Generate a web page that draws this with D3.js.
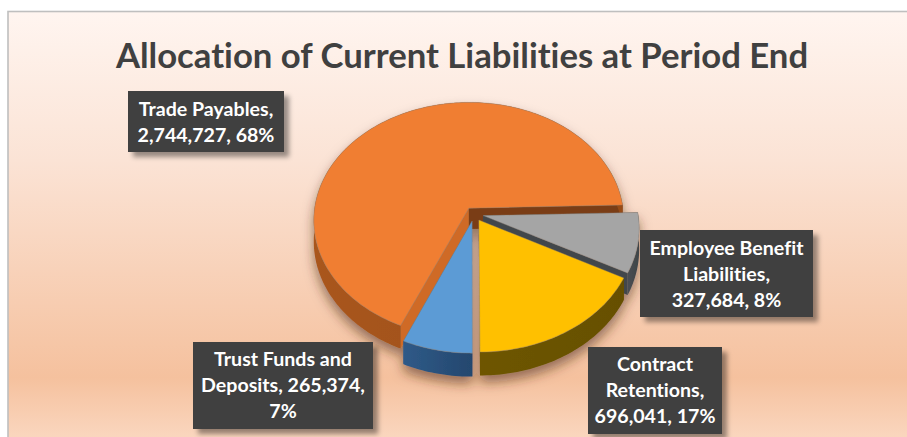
<!DOCTYPE html>
<html><head><meta charset="utf-8">
<script src="https://cdn.jsdelivr.net/npm/d3@7/dist/d3.min.js"></script>
<style>html,body{margin:0;padding:0;background:#fff;overflow:hidden}svg{display:block}text{font-family:Lato,"Open Sans",sans-serif;font-weight:700;font-variant-ligatures:none}</style>
</head><body><svg id="c" width="907" height="437"></svg>
<script>
const title = "Allocation of Current Liabilities at Period End";
const categories = ["Trade Payables","Employee Benefit Liabilities","Contract Retentions","Trust Funds and Deposits"];
const values = [2744727,327684,696041,265374];
const percents = ["68%","8%","17%","7%"];
const labelLines = [
  ["Trade Payables,","2,744,727, 68%"],
  ["Employee Benefit","Liabilities,","327,684, 8%"],
  ["Contract","Retentions,","696,041, 17%"],
  ["Trust Funds and","Deposits, 265,374,","7%"]
];
const topColors  = ["#f07e32","#a5a5a5","#ffc000","#5b9bd5"];
const sideColors = [["#a9561c","#974c18"],["#4a4f53","#3f4447"],["#6e5500","#665000"],["#2f5a88","#24476e"]];
const cutStart   = ["#cf6b27","#42474b","#6e5500","#2f5a88"];
const cutEnd     = ["#7a3e14","#42474b","#6e5500","#2f5a88"];
const labelBoxes = [[128,91,156,61],[640,230,173,87],[588,347,134,87],[193,342,180,87]];
const firstBaselines = [115.5,255,371,366];

const svg = d3.select("#c"), defs = svg.append("defs");
const bg = defs.append("linearGradient").attr("id","bg").attr("gradientUnits","userSpaceOnUse")
  .attr("x1",0).attr("y1",12).attr("x2",0).attr("y2",437);
[[0,"#fff5f0"],[.35,"#fbe3d5"],[.86,"#f5c19e"],[1,"#fad6be"]].forEach(s=>bg.append("stop").attr("offset",s[0]).attr("stop-color",s[1]));
const f1 = defs.append("filter").attr("id","boxShadow").attr("x","-20%").attr("y","-20%").attr("width","150%").attr("height","150%");
f1.append("feDropShadow").attr("dx",5).attr("dy",5).attr("stdDeviation",2.5).attr("flood-color","#000").attr("flood-opacity",.4);
const f2 = defs.append("filter").attr("id","pieShadow").attr("x","-20%").attr("y","-20%").attr("width","140%").attr("height","140%");
f2.append("feDropShadow").attr("dx",0).attr("dy",7).attr("stdDeviation",6).attr("flood-color","#4a2a10").attr("flood-opacity",.55);
const soft = defs.append("filter").attr("id","soft"); soft.append("feGaussianBlur").attr("stdDeviation",.35);
sideColors.forEach((c,i)=>{
  const g = defs.append("linearGradient").attr("id","side"+i);
  g.append("stop").attr("offset",0).attr("stop-color",c[0]);
  g.append("stop").attr("offset",1).attr("stop-color",c[1]);
});

svg.append("rect").attr("x",8).attr("y",11.5).attr("width",920).attr("height",440)
  .attr("fill","url(#bg)").attr("stroke","#bfbfbf").attr("stroke-width",1.6);
svg.append("text").attr("x",462).attr("y",68).attr("text-anchor","middle").attr("font-size",34.7).attr("fill","#404040").text(title);

// perspective projection of the disc
const persp = 0.1, depth = 21, explode = 0.06;
const sx = d3.scaleLinear().domain([-1,1]).range([474-155,474+155]);
const sy = d3.scaleLinear().domain([-1,1]).range([214-117.5,214+117.5]);
const proj = (u,v,z) => { const w = 1/(1-persp*v); return [474+(sx(u)-474)*w, 214+(sy(v)-214+z)*w]; };

const start = 203.5*Math.PI/180;
const arcs = d3.pie().sort(null).startAngle(start).endAngle(start+2*Math.PI)(values);
const line = d3.line();
const samples = (a,b) => { const n=Math.ceil(Math.abs(b-a)/0.02); return d3.range(n+1).map(i=>a+(b-a)*i/n); };

const pie = svg.append("g").attr("filter","url(#pieShadow)");
[0,1,3,2].forEach(i=>{
  const d = arcs[i], mid=(d.startAngle+d.endAngle)/2;
  const ou=explode*Math.sin(mid), ov=-explode*Math.cos(mid);
  const P=(a,r,z)=>proj(ou+r*Math.sin(a),ov-r*Math.cos(a),z);
  const g = pie.append("g").attr("filter","url(#soft)");
  const as = samples(d.startAngle,d.endAngle);
  const wall=(a,col)=>g.append("path").attr("d",line([P(a,0,0),P(a,1,0),P(a,1,depth),P(a,0,depth)])+"Z").attr("fill",col);
  wall(d.startAngle,cutStart[i]);
  wall(d.endAngle,cutEnd[i]);
  g.append("path").attr("d",line(as.map(a=>P(a,1,0)).concat(as.slice().reverse().map(a=>P(a,1,depth))))+"Z").attr("fill",`url(#side${i})`);
  g.append("path").attr("d",line([P(0,0,0)].concat(as.map(a=>P(a,1,0))))+"Z")
    .attr("fill",topColors[i]).attr("stroke","#8f7f72").attr("stroke-width",.5).attr("stroke-opacity",.8);
});

const lab = svg.selectAll("g.l").data(categories).join("g").attr("class","l");
lab.append("rect").attr("x",(d,i)=>labelBoxes[i][0]).attr("y",(d,i)=>labelBoxes[i][1])
  .attr("width",(d,i)=>labelBoxes[i][2]).attr("height",(d,i)=>labelBoxes[i][3])
  .attr("fill","#404040").attr("filter","url(#boxShadow)");
lab.each(function(d,i){
  d3.select(this).selectAll("text").data(labelLines[i]).join("text")
    .attr("x",labelBoxes[i][0]+labelBoxes[i][2]/2).attr("y",(t,j)=>firstBaselines[i]+j*26)
    .attr("text-anchor","middle").attr("font-size",19.6).attr("fill","#fff").text(t=>t);
});
</script></body></html>
